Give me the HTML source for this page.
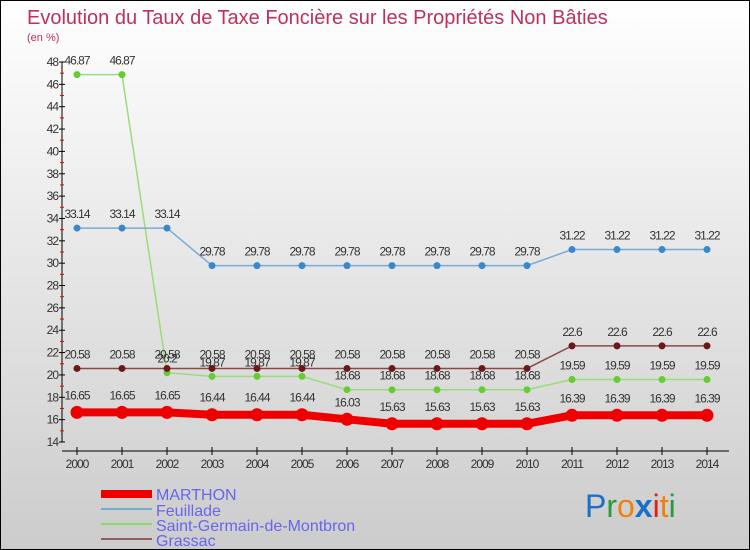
<!DOCTYPE html>
<html><head><meta charset="utf-8"><style>
body{margin:0}
#c{width:750px;height:550px;position:relative;box-sizing:border-box;border:1px solid #000;background:linear-gradient(#fff,#ccc);font-family:"Liberation Sans",sans-serif;overflow:hidden}
text{font-family:"Liberation Sans",sans-serif}
</style></head><body>
<div id="c">
<svg id="s" width="750" height="550" style="position:absolute;left:0;top:0">
<text x="26" y="23" font-size="20" fill="#c0305a">Evolution du Taux de Taxe Foncière sur les Propriétés Non Bâties</text>
<text x="26" y="40" font-size="11" fill="#c0305a">(en %)</text>
<g id="axes"></g><g id="plot"></g>
<g>
<rect x="100" y="489" width="51" height="8" fill="#e00"/>
<text x="155" y="499" font-size="16" fill="#6666ee">MARTHON</text>
<line x1="100" x2="151" y1="508" y2="508" stroke="#7aaac8" stroke-width="2"/>
<text x="155" y="515" font-size="16" fill="#6666ee">Feuillade</text>
<line x1="100" x2="151" y1="523" y2="523" stroke="#88dd66" stroke-width="2"/>
<text x="155" y="530" font-size="16" fill="#6666ee">Saint-Germain-de-Montbron</text>
<line x1="100" x2="151" y1="538" y2="538" stroke="#906060" stroke-width="2"/>
<text x="155" y="545" font-size="16" fill="#6666ee">Grassac</text>
</g>
<text x="584" y="516" font-size="32"><tspan fill="#1a6fc8">P</tspan><tspan fill="#2a9a3a">r</tspan><tspan fill="#f08010">o</tspan><tspan fill="#1a6fc8" font-weight="bold">x</tspan><tspan fill="#e02010">i</tspan><tspan fill="#f08010">t</tspan><tspan fill="#2a9a3a">i</tspan></text>
</svg>
</div>
<script>
const years=[2000,2001,2002,2003,2004,2005,2006,2007,2008,2009,2010,2011,2012,2013,2014];
const marthon=[16.65,16.65,16.65,16.44,16.44,16.44,16.03,15.63,15.63,15.63,15.63,16.39,16.39,16.39,16.39];
const feuillade=[33.14,33.14,33.14,29.78,29.78,29.78,29.78,29.78,29.78,29.78,29.78,31.22,31.22,31.22,31.22];
const stgermain=[46.87,46.87,20.2,19.87,19.87,19.87,18.68,18.68,18.68,18.68,18.68,19.59,19.59,19.59,19.59];
const grassac=[20.58,20.58,20.58,20.58,20.58,20.58,20.58,20.58,20.58,20.58,20.58,22.6,22.6,22.6,22.6];
const yTicks=[14,16,18,20,22,24,26,28,30,32,34,36,38,40,42,44,46,48];
const NS="http://www.w3.org/2000/svg";
const x=i=>76+i*45;
const y=v=>441-(v-14)*(380/34);
function mk(t,a,p){const e=document.createElementNS(NS,t);for(const k in a)e.setAttribute(k,a[k]);p.appendChild(e);return e;}
const ax=document.getElementById('axes'),pl=document.getElementById('plot');
const ya=mk('line',{x1:61,x2:61,y1:y(48),y2:y(14),stroke:'#000'},ax);


const xa=mk('line',{x1:61,x2:728,y1:450,y2:450,stroke:'#000'},ax);


yTicks.forEach(v=>{
 mk('line',{x1:58,x2:64,y1:y(v),y2:y(v),stroke:'#000'},ax);
 if(v<48)mk('line',{x1:59,x2:63,y1:y(v+1),y2:y(v+1),stroke:'#e00'},ax);
 const t=mk('text',{x:57,y:y(v)+4,'font-size':12,'text-anchor':'end',fill:'#333','letter-spacing':'-1'},ax);t.textContent=v;
 
 
});
years.forEach((yr,i)=>{
 mk('line',{x1:x(i),x2:x(i),y1:446,y2:454,stroke:'#000'},ax);
 const t=mk('text',{x:x(i),y:467,'font-size':12,'text-anchor':'middle',fill:'#333','letter-spacing':'-1'},ax);t.textContent=yr;
 
 
});
function series(d,col,w,r,dot,name){
 const g=mk('g',{},pl);
 
 
 mk('polyline',{points:d.map((v,i)=>x(i)+','+y(v)).join(' '),fill:'none',stroke:col,'stroke-width':w},g);
 d.forEach((v,i)=>{
  const c=mk('circle',{cx:x(i),cy:y(v),r:r,fill:dot},g);
  
  
  const t=mk('text',{x:x(i),y:y(v)-10-(r>5?3:0),'font-size':12,'text-anchor':'middle',fill:'#333','letter-spacing':'-1'},g);t.textContent=v;
  
  
 });
}
series(stgermain,'#99dd77',1.5,3.5,'#66cc33','saint-germain');
series(grassac,'#8a4a4a',1.5,3.5,'#6a1818','grassac');
series(feuillade,'#77aad8',1.5,3.5,'#3a88c8','feuillade');
series(marthon,'#ee0000',8,6.5,'#ee0000','marthon');
</script>
</body></html>
